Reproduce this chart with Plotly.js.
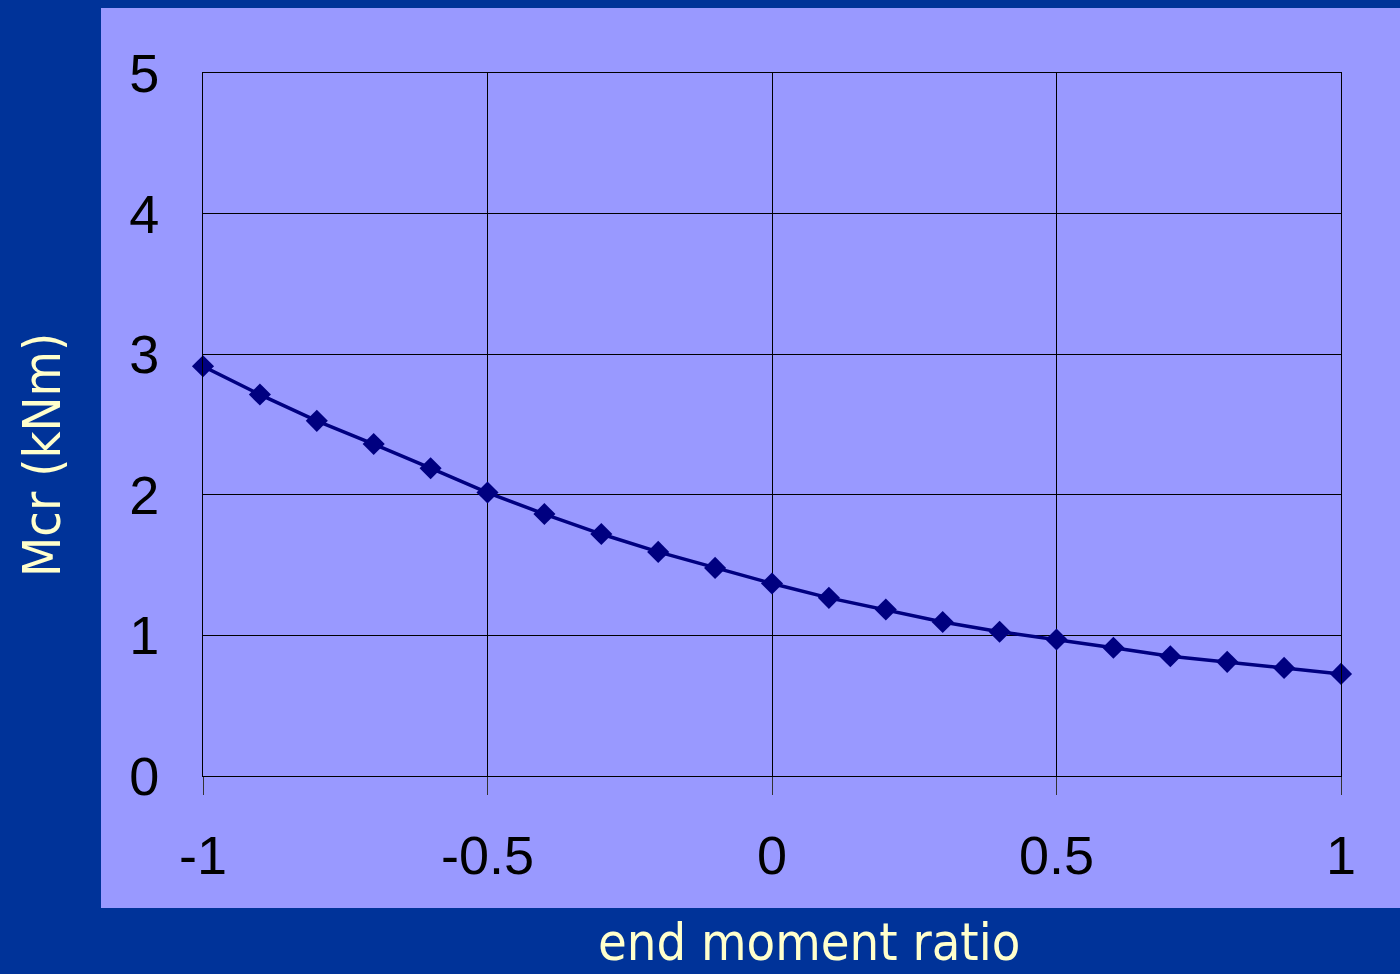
<!DOCTYPE html>
<html>
<head>
<meta charset="utf-8">
<script src="https://cdn.plot.ly/plotly-3.0.1.min.js"></script>
<style>html,body{margin:0;padding:0;background:#003399;}#chart{width:1400px;height:974px;}</style>
</head>
<body>
<div id="chart"></div>
<script>
const endMomentRatio = [-1, -0.9, -0.8, -0.7, -0.6, -0.5, -0.4, -0.3, -0.2, -0.1, 0, 0.1, 0.2, 0.3, 0.4, 0.5, 0.6, 0.7, 0.8, 0.9, 1];
const mcr = [2.914, 2.713, 2.526, 2.361, 2.189, 2.016, 1.863, 1.721, 1.594, 1.480, 1.369, 1.267, 1.184, 1.095, 1.026, 0.971, 0.912, 0.852, 0.812, 0.769, 0.726];
const xTicks = [-1, -0.5, 0, 0.5, 1];
const xTickLabels = ['-1', '-0.5', '0', '0.5', '1'];
const yTicks = [0, 1, 2, 3, 4, 5];
const xTitle = 'end moment ratio';
const yTitle = 'Mcr (kNm)';

const W = 1400, H = 974;
const M = {l: 203, r: 59, t: 73, b: 198};
const pw = W - M.l - M.r, ph = H - M.t - M.b;
const px = x => (x - M.l) / pw;
const py = y => (H - M.b - y) / ph;

const titleFont = {family: '"DejaVu Sans Condensed", "DejaVu Sans", sans-serif', size: 52, color: '#FFFFCC'};
const tickFont = {family: '"Liberation Sans", Arial, sans-serif', size: 54, color: '#000000'};

const trace = {
  x: endMomentRatio,
  y: mcr,
  type: 'scatter',
  mode: 'lines+markers',
  line: {color: '#000080', width: 3.5},
  marker: {symbol: 'diamond', size: 17, color: '#000080'},
  cliponaxis: false,
  hoverinfo: 'x+y'
};

const layout = {
  width: W, height: H,
  margin: M,
  paper_bgcolor: '#003399',
  plot_bgcolor: '#9999FF',
  showlegend: false,
  xaxis: {
    range: [-1, 1],
    tickvals: xTicks, ticktext: xTickLabels,
    showgrid: true, gridcolor: '#000000', gridwidth: 1,
    zeroline: false,
    showline: true, mirror: true, linecolor: '#000000', linewidth: 1,
    ticks: 'outside', ticklen: 18, tickcolor: '#333333', tickwidth: 1,
    tickfont: tickFont,
    ticklabelstandoff: 14,
    fixedrange: true
  },
  yaxis: {
    range: [0, 5],
    tickvals: yTicks,
    showgrid: true, gridcolor: '#000000', gridwidth: 1,
    zeroline: false,
    showline: true, mirror: true, linecolor: '#000000', linewidth: 1,
    ticks: '',
    tickfont: tickFont,
    ticklabelstandoff: 32,
    fixedrange: true
  },
  shapes: [{
    type: 'rect', xref: 'paper', yref: 'paper', layer: 'below',
    x0: px(101), x1: px(1402), y0: py(908), y1: py(8),
    fillcolor: '#9999FF', line: {width: 0}
  }],
  annotations: [
    {text: xTitle, xref: 'paper', yref: 'paper', x: px(809), y: py(974),
     xanchor: 'center', yanchor: 'bottom', showarrow: false, font: titleFont},
    {text: yTitle, xref: 'paper', yref: 'paper', x: px(42), y: py(455),
     xanchor: 'center', yanchor: 'middle', textangle: -90, showarrow: false, font: titleFont}
  ]
};

Plotly.newPlot('chart', [trace], layout, {displayModeBar: false, staticPlot: true});
</script>
</body>
</html>
